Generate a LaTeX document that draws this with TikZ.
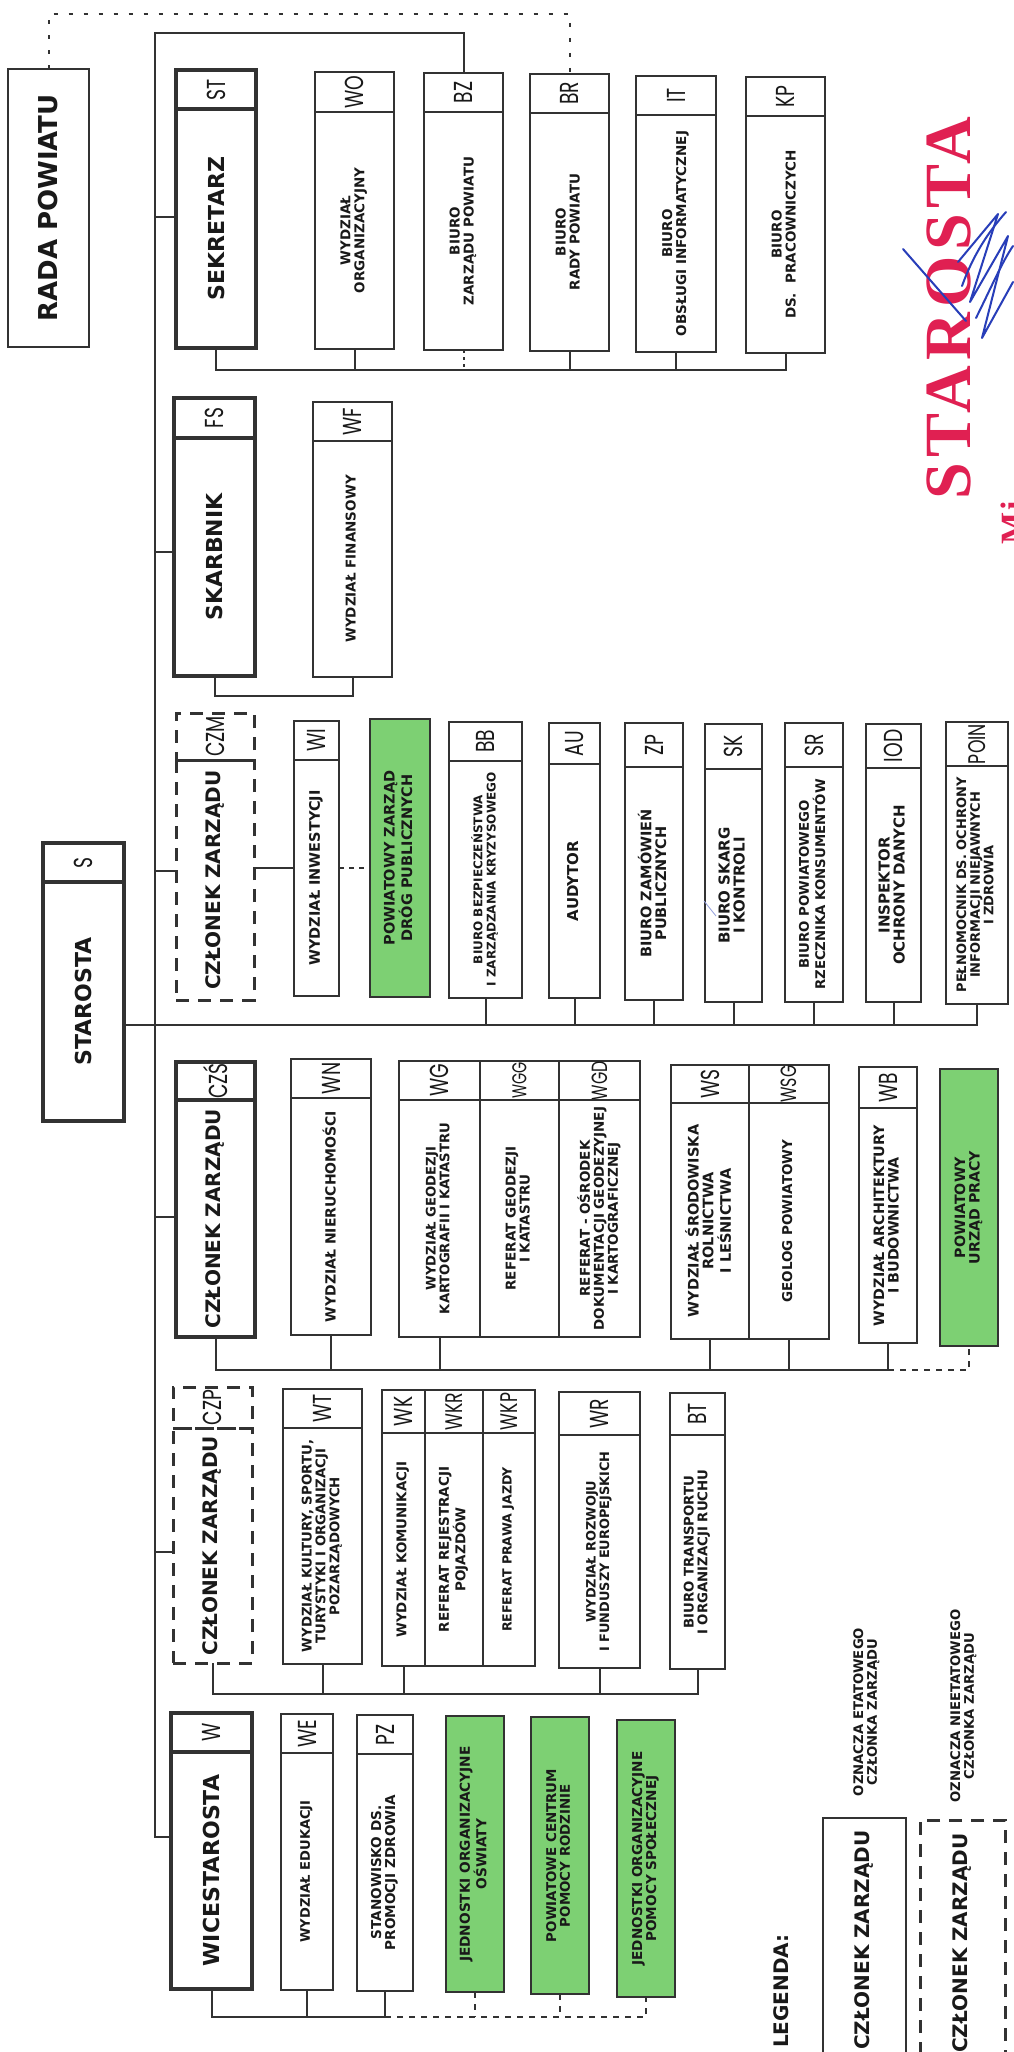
\documentclass[tikz,border=0pt]{standalone}
\usepackage{graphicx}
\usepackage{fontspec}
\setmainfont{DejaVu Sans}
\newfontfamily\codefont{Poppins}
\newfontfamily\stampfont{Liberation Serif}[LetterSpace=8]
\definecolor{linec}{RGB}{50,50,50}
\definecolor{txtc}{RGB}{25,25,25}
\definecolor{greenc}{RGB}{125,208,115}
\definecolor{stampred}{RGB}{224,32,82}
\definecolor{sigblue}{RGB}{40,62,185}
\newcommand\rt[2]{\rotatebox{90}{\fontsize{#1}{13.2}\selectfont\bfseries\begin{tabular}{@{}c@{}}#2\end{tabular}}}
\newcommand\hd[2]{\rotatebox{90}{\fontsize{#1}{#1}\selectfont\bfseries #2}}
\newcommand\cs[1]{\fontsize{#1}{#1}\selectfont}
\newcommand\cd[1]{\rotatebox{90}{\scalebox{0.72}[1]{\codefont\fontsize{26}{26}\selectfont #1}}}
% #1 name, #2 style, #3 x1, #4 x2, #5 ytop, #6 ydiv, #7 ybot, #8 code, #9 text
\newcommand\orgbox[9]{%
  \node[#2, minimum width={#4-#3}, minimum height={#6-#5}] (#1c) at ({(#3+#4)/2},{(#5+#6)/2}) {\cd{#8}};
  \node[#2, minimum width={#4-#3}, minimum height={#7-#6}] (#1) at ({(#3+#4)/2},{(#6+#7)/2}) {#9};}
% #1 name, #2 style, #3 x1, #4 x2, #5 ytop, #6 ybot, #7 text
\newcommand\plainbox[7]{%
  \node[#2, minimum width={#4-#3}, minimum height={#6-#5}] (#1) at ({(#3+#4)/2},{(#5+#6)/2}) {#7};}
\tikzset{
  cell/.style={draw=linec, line width=1.8pt, inner sep=0pt, outer sep=0pt, text=txtc},
  member/.style={cell, line width=3.2pt},
  dmember/.style={cell, line width=3pt, dash pattern=on 13pt off 9pt},
  greenbox/.style={cell, fill=greenc},
  conn/.style={draw=linec, line width=2pt},
  dotc/.style={conn, dash pattern=on 3pt off 4pt},
  dotw/.style={conn, dash pattern=on 5pt off 5pt},
  dashc/.style={conn, dash pattern=on 6pt off 6pt},
  radac/.style={conn, dash pattern=on 4pt off 11pt},
  sig/.style={draw=sigblue, line width=2pt, line cap=round, line join=round},
}
\begin{document}
\begin{tikzpicture}[x=1pt,y=-1pt]
\useasboundingbox (0,0) rectangle (1013,2052);
\fill[white] (0,0) rectangle (1013,2052);

% ---- stamp ----
\node[inner sep=0pt, text=stampred] (stamp) at (949,308) {\rotatebox{90}{\stampfont\bfseries\fontsize{66}{66}\selectfont STAROSTA}};
\node[inner sep=0pt, anchor=south west, text=stampred] (stamp2) at (1001,545) {\rotatebox{90}{\stampfont\bfseries\fontsize{34}{34}\selectfont Mi}};

% ---- Rada ----
\plainbox{rada}{cell}{8}{89}{69}{347}{\hd{26}{RADA POWIATU}}

% ---- Sekretarz ----
\orgbox{sek}{member}{176}{256}{70}{109}{348}{ST}{\hd{22}{SEKRETARZ}}
\orgbox{wo}{cell}{315}{394}{72}{112}{349}{WO}{\rt{13.5}{WYDZIAŁ\\ORGANIZACYJNY}}
\orgbox{bz}{cell}{424}{503}{73}{112}{350}{BZ}{\rt{13.5}{BIURO\\ZARZĄDU POWIATU}}
\orgbox{br}{cell}{530}{609}{74}{113}{351}{BR}{\rt{13.5}{BIURO\\RADY POWIATU}}
\orgbox{it}{cell}{636}{716}{76}{115}{352}{IT}{\rt{13.5}{BIURO\\OBSŁUGI INFORMATYCZNEJ}}
\orgbox{kp}{cell}{746}{825}{77}{116}{353}{KP}{\rt{13.5}{BIURO\\DS.\ \ PRACOWNICZYCH}}

% ---- Skarbnik ----
\orgbox{skb}{member}{174}{255}{398}{438}{676}{FS}{\hd{22}{SKARBNIK}}
\orgbox{wf}{cell}{313}{392}{402}{441}{677}{WF}{\rt{13.5}{WYDZIAŁ FINANSOWY}}

% ---- CZM ----
\orgbox{czm}{dmember}{176}{254}{713}{760}{1000}{CZM}{\hd{20}{CZŁONEK ZARZĄDU}}
\orgbox{wi}{cell}{294}{339}{721}{760}{996}{WI}{\rt{14.5}{WYDZIAŁ INWESTYCJI}}
\plainbox{pzdp}{greenbox}{370}{430}{719}{997}{\rt{14.5}{POWIATOWY ZARZĄD\\DRÓG PUBLICZNYCH}}
\orgbox{bb}{cell}{449}{522}{722}{761}{998}{BB}{\rt{12}{BIURO BEZPIECZEŃSTWA\\I ZARZĄDZANIA KRYZYSOWEGO}}
\orgbox{au}{cell}{549}{600}{723}{764}{998}{AU}{\rt{15}{AUDYTOR}}
\orgbox{zp}{cell}{625}{683}{723}{767}{1000}{ZP}{\rt{14.5}{BIURO ZAMÓWIEŃ\\PUBLICZNYCH}}
\orgbox{sk}{cell}{705}{762}{724}{769}{1002}{SK}{\rt{15}{BIURO SKARG\\I KONTROLI}}
\orgbox{sr}{cell}{785}{843}{723}{767}{1002}{SR}{\rt{13.3}{BIURO POWIATOWEGO\\RZECZNIKA KONSUMENTÓW}}
\orgbox{iod}{cell}{866}{921}{724}{768}{1002}{IOD}{\rt{15}{INSPEKTOR\\OCHRONY DANYCH}}
\orgbox{poin}{cell}{946}{1008}{722}{766}{1004}{\cs{24}POIN}{\rt{13}{PEŁNOMOCNIK DS. OCHRONY\\INFORMACJI NIEJAWNYCH\\I ZDROWIA}}

% ---- Starosta ----
\orgbox{sta}{member}{43}{124}{843}{882}{1121}{S}{\hd{22}{STAROSTA}}

% ---- CZS ----
\orgbox{czs}{member}{176}{255}{1062}{1100}{1337}{CZŚ}{\hd{20}{CZŁONEK ZARZĄDU}}
\orgbox{wn}{cell}{291}{371}{1059}{1098}{1335}{WN}{\rt{14}{WYDZIAŁ NIERUCHOMOŚCI}}
\orgbox{wg}{cell}{399}{480}{1061}{1100}{1337}{WG}{\rt{13.2}{WYDZIAŁ GEODEZJI\\KARTOGRAFII I KATASTRU}}
\orgbox{wgg}{cell}{480}{559}{1061}{1100}{1337}{\cs{20}WGG}{\rt{13.5}{REFERAT GEODEZJI\\I KATASTRU}}
\orgbox{wgd}{cell}{559}{640}{1061}{1100}{1337}{\cs{22}WGD}{\rt{13.5}{REFERAT - OŚRODEK\\DOKUMENTACJI GEODEZYJNEJ\\I KARTOGRAFICZNEJ}}
\orgbox{ws}{cell}{671}{749}{1065}{1103}{1339}{WS}{\rt{14.5}{WYDZIAŁ ŚRODOWISKA\\ROLNICTWA\\I LEŚNICTWA}}
\orgbox{wsg}{cell}{749}{829}{1065}{1103}{1339}{\cs{22}WSG}{\rt{13.5}{GEOLOG POWIATOWY}}
\orgbox{wb}{cell}{859}{917}{1067}{1108}{1343}{WB}{\rt{14.3}{WYDZIAŁ ARCHITEKTURY\\I BUDOWNICTWA}}
\plainbox{pup}{greenbox}{940}{998}{1069}{1346}{\rt{14.2}{POWIATOWY\\URZĄD PRACY}}

% ---- CZP ----
\orgbox{czp}{dmember}{173}{252}{1387}{1428}{1663}{CZP}{\hd{20}{CZŁONEK ZARZĄDU}}
\orgbox{wt}{cell}{283}{362}{1389}{1428}{1664}{WT}{\rt{13.3}{WYDZIAŁ KULTURY, SPORTU,\\TURYSTYKI I ORGANIZACJI\\POZARZĄDOWYCH}}
\orgbox{wk}{cell}{382}{425}{1390}{1433}{1666}{WK}{\rt{13.4}{WYDZIAŁ KOMUNIKACJI}}
\orgbox{wkr}{cell}{425}{483}{1390}{1433}{1666}{\cs{24}WKR}{\rt{13.5}{REFERAT REJESTRACJI\\POJAZDÓW}}
\orgbox{wkp}{cell}{483}{535}{1390}{1433}{1666}{\cs{24}WKP}{\rt{12.6}{REFERAT PRAWA JAZDY}}
\orgbox{wr}{cell}{559}{640}{1392}{1435}{1668}{WR}{\rt{12.9}{WYDZIAŁ ROZWOJU\\I FUNDUSZY EUROPEJSKICH}}
\orgbox{bt}{cell}{670}{725}{1393}{1435}{1669}{BT}{\rt{13.3}{BIURO TRANSPORTU\\I ORGANIZACJI RUCHU}}

% ---- Wicestarosta ----
\orgbox{w}{member}{171}{252}{1713}{1752}{1989}{W}{\hd{22}{WICESTAROSTA}}
\orgbox{we}{cell}{281}{333}{1714}{1753}{1990}{WE}{\rt{13.1}{WYDZIAŁ EDUKACJI}}
\orgbox{pz}{cell}{357}{413}{1715}{1754}{1991}{PZ}{\rt{13.6}{STANOWISKO DS.\\PROMOCJI ZDROWIA}}
\plainbox{joo}{greenbox}{446}{504}{1716}{1992}{\rt{13.7}{JEDNOSTKI ORGANIZACYJNE\\OŚWIATY}}
\plainbox{pcpr}{greenbox}{531}{589}{1717}{1994}{\rt{13.4}{POWIATOWE CENTRUM\\POMOCY RODZINIE}}
\plainbox{jops}{greenbox}{617}{675}{1720}{1997}{\rt{13.6}{JEDNOSTKI ORGANIZACYJNE\\POMOCY SPOŁECZNEJ}}

% ---- Legend ----
\node[inner sep=0pt, text=txtc] (leg) at (781,1991) {\hd{20}{LEGENDA:}};
\plainbox{legs}{cell, line width=2.6pt}{823}{906}{1818}{2062}{\hd{20}{CZŁONEK ZARZĄDU}}
\plainbox{legd}{dmember}{920}{1005}{1820}{2066}{\hd{20}{CZŁONEK ZARZĄDU}}
\node[inner sep=0pt, text=txtc] (leg1) at (867,1712) {\rt{13.2}{OZNACZA ETATOWEGO\\CZŁONKA ZARZĄDU}};
\node[inner sep=0pt, text=txtc] (leg2) at (964,1706) {\rt{13.2}{OZNACZA NIEETATOWEGO\\CZŁONKA ZARZĄDU}};

% ---- coordinates ----
\coordinate (t0) at (155,33);
\coordinate (t1) at (155,217);
\coordinate (t2) at (155,552);
\coordinate (t3) at (155,871);
\coordinate (t4) at (155,1025);
\coordinate (t5) at (155,1217);
\coordinate (t6) at (155,1552);
\coordinate (t7) at (155,1837);
\coordinate (b1) at (0,370);
\coordinate (b2) at (0,696);
\coordinate (y868) at (0,868);
\coordinate (b5) at (0,1370);
\coordinate (b6) at (0,1694);
\coordinate (b7) at (0,2017);
\coordinate (r0) at (0,14);

% ---- connectors ----
\draw[radac] (rada.north) -- (rada.north |- r0) -| (brc.north);
\draw[conn] (bzc.north) |- (t0) -- (t7) -- (w.west |- t7);
\draw[conn] (t1) -- (sek.west |- t1);
\draw[conn] (t2) -- (skb.west |- t2);
\draw[conn] (t3) -- (czm.west |- t3);
\draw[conn] (sta.east |- t4) -- (poin.south |- t4) -- (poin.south);
\draw[conn] (t5) -- (czs.west |- t5);
\draw[conn] (t6) -- (czp.west |- t6);

\draw[conn] (sek.south) |- (kp.south |- b1) -- (kp.south);
\foreach \n in {wo,br,it} \draw[conn] (\n.south) -- (\n.south |- b1);
\draw[dotc] (bz.south) -- (bz.south |- b1);

\draw[conn] (skb.south) |- (wf.south |- b2) -- (wf.south);

\draw[conn] (czm.east |- y868) -- (wi.west |- y868);
\draw[dotw] (wi.east |- y868) -- (pzdp.west |- y868);
\foreach \n in {bb,au,zp,sk,sr,iod} \draw[conn] (\n.south) -- (\n.south |- t4);

\draw[conn] (czs.south) |- (wb.south |- b5) -- (wb.south);
\foreach \n in {wn,wg,ws,wsg} \draw[conn] (\n.south) -- (\n.south |- b5);
\draw[dashc] (wb.south |- b5) -| (pup.south);

\draw[conn] (czp.south) |- (bt.south |- b6) -- (bt.south);
\foreach \n in {wt,wk,wr} \draw[conn] (\n.south) -- (\n.south |- b6);

\draw[conn] (w.south) |- (pz.south |- b7) -- (pz.south);
\draw[conn] (we.south) -- (we.south |- b7);
\draw[dashc] (pz.south |- b7) -| (jops.south);
\foreach \n in {joo,pcpr} \draw[dashc] (\n.south) -- (\n.south |- b7);

% ---- signature ----
\draw[sig] (903,249) -- (966,321);
\draw[sig] (958,262) -- (998,214) -- (970,302) -- (1008,236) -- (982,338) -- (1013,282);
\draw[sig] (962,286) .. controls (975,250) and (992,228) .. (1006,212);
\draw[sig] (976,318) .. controls (990,290) and (1002,262) .. (1013,246);
\draw[sigblue!50, line width=0.8pt] (704,901) -- (716,916);
\end{tikzpicture}
\end{document}
